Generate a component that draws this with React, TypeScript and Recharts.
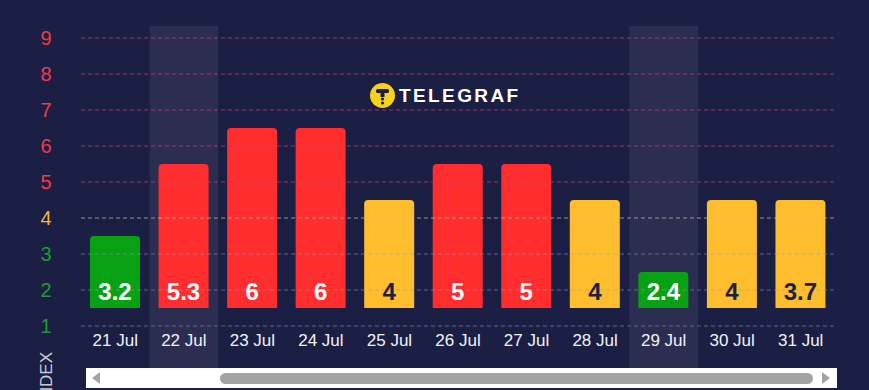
import {
  BarChart,
  Bar,
  XAxis,
  YAxis,
  Cell,
  LabelList,
  ReferenceLine,
  ReferenceArea,
} from "recharts";

const days = [
  "21 Jul",
  "22 Jul",
  "23 Jul",
  "24 Jul",
  "25 Jul",
  "26 Jul",
  "27 Jul",
  "28 Jul",
  "29 Jul",
  "30 Jul",
  "31 Jul",
];
const kpValues = [3.2, 5.3, 6, 6, 4, 5, 5, 4, 2.4, 4, 3.7];
const barTops = [3.5, 5.5, 6.5, 6.5, 4.5, 5.5, 5.5, 4.5, 2.5, 4.5, 4.5];
const barBase = 1.5;
const yTicks = [1, 2, 3, 4, 5, 6, 7, 8, 9];
const highlightedDays = ["22 Jul", "29 Jul"];

const BG = "#1c1f44";
const RED = "#ff2d2d";
const YELLOW = "#fdbd2c";
const GREEN = "#08a114";

const levelColor = (v: number) => {
  const r = Math.round(v);
  if (r >= 5) return RED;
  if (r === 4) return YELLOW;
  return GREEN;
};

const tickColor = (v: number) => {
  if (v >= 5) return "#ec3b4b";
  if (v === 4) return "#f3b43a";
  return "#1f9a33";
};

const gridColor = (v: number) => {
  if (v >= 5) return "rgba(200,60,110,0.75)";
  if (v === 4) return "rgba(215,190,150,0.7)";
  return "rgba(150,155,190,0.55)";
};

const data = days.map((day, i) => ({
  day,
  kp: kpValues[i],
  range: [barBase, barTops[i]],
}));

const YTick = (props: any) => {
  const { y, payload } = props;
  return (
    <text
      x={46}
      y={y}
      dy={7}
      textAnchor="middle"
      fill={tickColor(payload.value)}
      fontSize={20}
      fontFamily="Liberation Sans, Arial, sans-serif"
    >
      {payload.value}
    </text>
  );
};

const XTick = (props: any) => {
  const { x, y, payload } = props;
  return (
    <text
      x={x}
      y={y}
      dy={12}
      textAnchor="middle"
      fill="#f2f2f7"
      fontSize={17}
      fontFamily="Liberation Sans, Arial, sans-serif"
    >
      {payload.value}
    </text>
  );
};

const ValueLabel = (props: any) => {
  const vb = props.viewBox || props;
  const x = vb.x ?? props.x;
  const y = vb.y ?? props.y;
  const w = vb.width ?? props.width;
  const h = vb.height ?? props.height;
  const v = kpValues[props.index];
  const dark = Math.round(v) === 4;
  return (
    <text
      x={x + w / 2}
      y={y + h - 8}
      textAnchor="middle"
      fill={dark ? "#1e2040" : "#ffffff"}
      fontSize={24}
      fontWeight="bold"
      fontFamily="Liberation Sans, Arial, sans-serif"
    >
      {String(props.value)}
    </text>
  );
};

export default function App() {
  return (
    <div
      style={{
        position: "absolute",
        left: 0,
        top: 0,
        width: 869,
        height: 390,
        background: BG,
        overflow: "hidden",
      }}
    >
      <BarChart
        width={869}
        height={390}
        data={data}
        margin={{ top: 38, right: 34, left: 0, bottom: 34 }}
      >
        <XAxis
          dataKey="day"
          axisLine={false}
          tickLine={false}
          tick={<XTick />}
          height={30}
          interval={0}
        />
        <YAxis
          type="number"
          domain={[1, 9]}
          ticks={yTicks}
          axisLine={false}
          tickLine={false}
          tick={<YTick />}
          width={81}
        />
        {highlightedDays.map((d) => (
          <ReferenceArea
            key={d}
            x1={d}
            x2={d}
            y1={-0.17}
            y2={9.33}
            ifOverflow="visible"
            fill="#ffffff"
            fillOpacity={0.07}
            stroke="none"
          />
        ))}
        {yTicks.map((t) => (
          <ReferenceLine
            key={t}
            y={t}
            stroke={gridColor(t)}
            strokeDasharray="4 3"
            strokeWidth={1}
          />
        ))}
        <Bar
          dataKey="range"
          barSize={50}
          radius={[4, 4, 0, 0]}
          isAnimationActive={false}
        >
          {data.map((d) => (
            <Cell key={d.day} fill={levelColor(d.kp)} />
          ))}
          <LabelList dataKey="kp" content={<ValueLabel />} />
        </Bar>
      </BarChart>

      {/* logo */}
      <div
        style={{
          position: "absolute",
          left: 370,
          top: 83,
          display: "flex",
          alignItems: "center",
        }}
      >
        <svg width={25} height={25}>
          <circle cx={12.5} cy={12.5} r={12.5} fill="#f8d21a" />
          <rect x={6} y={6} width={13} height={4} rx={1.5} fill={BG} />
          <rect x={10.5} y={9} width={4} height={5} fill={BG} />
          <circle cx={12.5} cy={16} r={1.6} fill={BG} />
          <circle cx={12.5} cy={20} r={1.6} fill={BG} />
        </svg>
        <span
          style={{
            marginLeft: 4,
            color: "#ffffff",
            fontFamily: "Liberation Sans, Arial, sans-serif",
            fontWeight: "bold",
            fontSize: 19,
            letterSpacing: 2.4,
          }}
        >
          TELEGRAF
        </span>
      </div>

      {/* axis title */}
      <div
        style={{
          position: "absolute",
          left: 46,
          top: 352,
          transform: "rotate(-90deg)",
          transformOrigin: "0 0",
          whiteSpace: "nowrap",
          color: "#c6c9de",
          fontFamily: "Liberation Sans, Arial, sans-serif",
          fontSize: 17,
          lineHeight: "17px",
          marginLeft: -8,
        }}
      >
        <span style={{ position: "absolute", right: 0, top: 0 }}>INDEX</span>
      </div>

      {/* scrollbar */}
      <div
        style={{
          position: "absolute",
          left: 86,
          top: 368,
          width: 751,
          height: 20,
          background: "#ffffff",
        }}
      >
        <div
          style={{
            position: "absolute",
            left: 134,
            top: 5,
            width: 593,
            height: 11,
            borderRadius: 6,
            background: "#a3a3a3",
          }}
        />
        <svg
          width={751}
          height={20}
          style={{ position: "absolute", left: 0, top: 0 }}
        >
          <polygon points="14,4 6,10 14,16" fill="#a3a3a3" />
          <polygon points="736,4 744,10 736,16" fill="#a3a3a3" />
        </svg>
      </div>
    </div>
  );
}
